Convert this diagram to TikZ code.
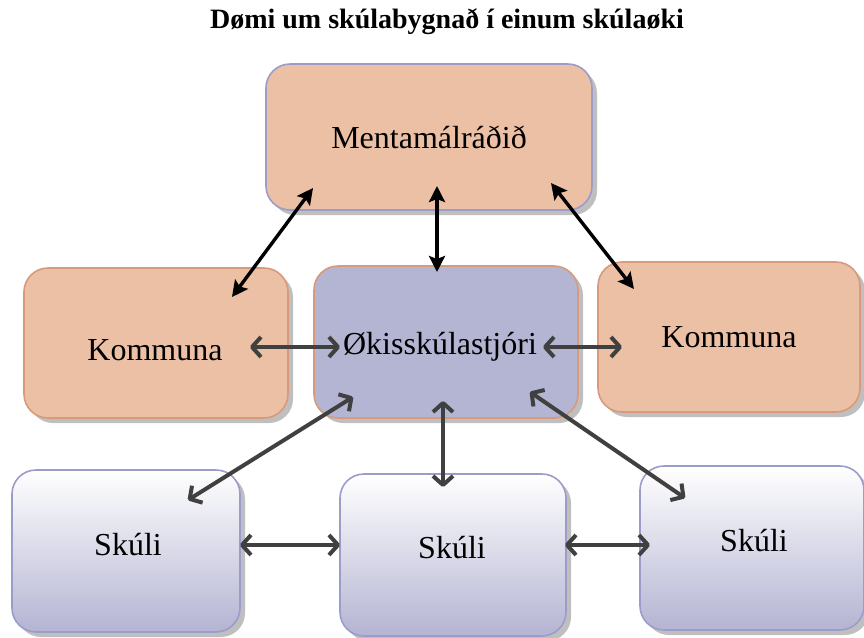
\documentclass[tikz,border=0pt]{standalone}
\usepackage{fontspec}
\setmainfont{Liberation Serif}
\usetikzlibrary{shadows, arrows.meta}

\definecolor{peach}{HTML}{EBC0A5}
\definecolor{lilac}{HTML}{B4B4D3}
\definecolor{lilacline}{HTML}{9C9CCB}
\definecolor{rustline}{HTML}{D89A7A}
\definecolor{darkline}{HTML}{404040}

\tikzset{
  unit/.style={rounded corners=12pt, line width=0.8pt, font=\fontsize{16}{19}\selectfont,
    drop shadow={shadow xshift=2.5pt, shadow yshift=-2.5pt, fill=black, opacity=0.25}},
  board/.style={unit, draw=lilacline, fill=peach},
  town/.style={unit, draw=rustline, fill=peach},
  head/.style={unit, draw=rustline, fill=lilac},
  school/.style={unit, draw=lilacline, top color=white, bottom color=lilac},
  label/.style={font=\fontsize{16}{19}\selectfont},
  link/.style={line width=1.7pt, {Stealth[length=8pt,width=8pt,inset=1.5pt]}-{Stealth[length=8pt,width=8pt,inset=1.5pt]}},
  graylink/.style={draw=darkline, line width=2pt, line cap=round,
    {Straight Barb[length=4.5pt,width=10pt,line join=round]}-{Straight Barb[length=4.5pt,width=10pt,line join=round]}}
}

\begin{document}
\begin{tikzpicture}[x=0.5pt, y=-0.5pt]
      \useasboundingbox (0,0) rectangle (864,638);
      \node[font=\fontsize{14}{17}\bfseries] (title) at (447,22) {Dømi um skúlabygnað í einum skúlaøki};

      \node[board, minimum width=163pt, minimum height=73pt] (board) at (429,137) {Mentamálráðið};
      \node[town, minimum width=132pt, minimum height=75pt] (townL) at (156,343) {};
      \node[label] (townLtext) at (155,350) {Kommuna};
      \node[head, minimum width=132pt, minimum height=76pt] (head) at (446,342) {};
      \node[label] (headtext) at (440,347) {Økisskúlastjóri};
      \node[town, minimum width=131pt, minimum height=75pt] (townR) at (729,337) {Kommuna};
      \node[school, minimum width=114pt, minimum height=81pt] (school1) at (126,551) {};
      \node[label] (school1text) at (128,545) {Skúli};
      \node[school, minimum width=113pt, minimum height=81pt] (school2) at (453,555) {};
      \node[label] (school2text) at (452,548) {Skúli};
      \node[school, minimum width=112pt, minimum height=82pt] (school3) at (752,548) {};
      \node[label] (school3text) at (754,541) {Skúli};

      \draw[link] ([shift={(-116,51)}]board.center) -- ([shift={(76,-46)}]townL.center);
      \draw[link] ([shift={(8,49)}]board.center) -- ([shift={(-9,-70)}]head.center);
      \draw[link] ([shift={(122,46)}]board.center) -- ([shift={(-95,-48)}]townR.center);

      \draw[graylink] ([shift={(94,4)}]townL.center) -- ([shift={(-106,5)}]head.center);
      \draw[graylink] ([shift={(97,5)}]head.center) -- ([shift={(-107,10)}]townR.center);

      \draw[graylink] ([shift={(-93,55)}]head.center) -- ([shift={(62,-51)}]school1.center);
      \draw[graylink] ([shift={(-3,59)}]head.center) -- ([shift={(-10,-68)}]school2.center);
      \draw[graylink] ([shift={(84,50)}]head.center) -- ([shift={(-67,-50)}]school3.center);

      \draw[graylink] ([shift={(114,-6)}]school1.center) -- ([shift={(-113,-10)}]school2.center);
      \draw[graylink] ([shift={(112,-10)}]school2.center) -- ([shift={(-102,-3)}]school3.center);
    \end{tikzpicture}
\end{document}
